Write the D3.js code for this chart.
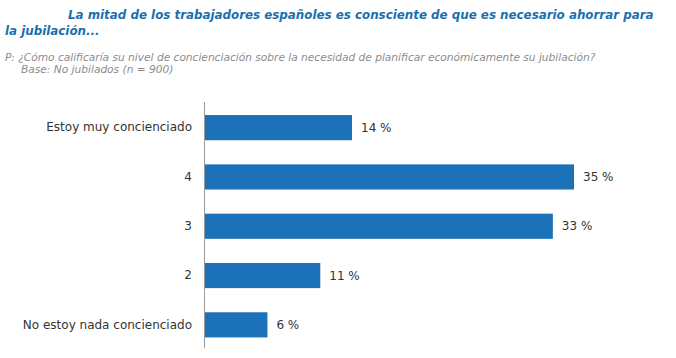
<!DOCTYPE html>
<html>
<head>
<meta charset="utf-8">
<script src="https://cdn.jsdelivr.net/npm/d3@7"></script>
<style>
  html, body { margin: 0; padding: 0; background: #fff; }
  svg { display: block; }
</style>
</head>
<body>
<svg id="chart" width="676" height="358"></svg>
<script>
const categories = ["Estoy muy concienciado", "4", "3", "2", "No estoy nada concienciado"];
const values = [14, 35, 33, 11, 6];
const titleLines = ["La mitad de los trabajadores españoles es consciente de que es necesario ahorrar para", "la jubilación..."];
const subtitleLines = ["P: ¿Cómo calificaría su nivel de concienciación sobre la necesidad de planificar económicamente su jubilación?", "Base: No jubilados (n = 900)"];

const svg = d3.select("#chart");
const margin = { left: 204, top: 102, bottom: 10 };

const x = d3.scaleLinear().domain([0, 35]).range([margin.left, 574]);
const y = d3.scaleBand().domain(categories).range([margin.top + 1, margin.top + 1 + 49.3 * 5]).paddingInner(0.49).paddingOuter(0.245);

function fitText(sel, target, size) {
  const w = sel.node().getComputedTextLength();
  sel.attr("font-size", size * target / w);
}

// Title
const t1 = svg.append("text").attr("x", 68).attr("y", 19)
  .attr("font-family", "DejaVu Sans").attr("font-weight", "bold").attr("font-style", "italic")
  .attr("font-size", 12).attr("fill", "#1a6fae")
  .text(titleLines[0]);
fitText(t1, 586, 12);
svg.append("text").attr("x", 5).attr("y", 35)
  .attr("font-family", "DejaVu Sans").attr("font-weight", "bold").attr("font-style", "italic")
  .attr("font-size", t1.attr("font-size")).attr("fill", "#1a6fae")
  .text(titleLines[1]);

// Subtitle
const s1 = svg.append("text").attr("x", 5).attr("y", 61)
  .attr("font-family", "DejaVu Sans").attr("font-style", "italic")
  .attr("font-size", 10).attr("fill", "#8c8c8c")
  .text(subtitleLines[0]);
fitText(s1, 591, 10);
svg.append("text").attr("x", 21).attr("y", 73)
  .attr("font-family", "DejaVu Sans").attr("font-style", "italic")
  .attr("font-size", s1.attr("font-size")).attr("fill", "#8c8c8c")
  .text(subtitleLines[1]);

// Bars
svg.append("g").selectAll("rect").data(values).join("rect")
  .attr("x", x(0))
  .attr("y", (d, i) => y(categories[i]))
  .attr("width", d => x(d) - x(0))
  .attr("height", y.bandwidth())
  .attr("fill", "#1b72b8");

// Value labels
svg.append("g").selectAll("text").data(values).join("text")
  .attr("x", d => x(d) + 9)
  .attr("y", (d, i) => y(categories[i]) + y.bandwidth() / 2)
  .attr("dy", "0.35em")
  .attr("font-family", "DejaVu Sans").attr("font-size", 12).attr("fill", "#333")
  .text(d => d + " %");

// Axis
const axis = d3.axisLeft(y).tickSize(0).tickPadding(12);
const gA = svg.append("g").attr("transform", `translate(${x(0)},0)`).call(axis);
gA.select(".domain").attr("stroke", "#9a9a9a").attr("d", `M0.5,${margin.top}V348`);
gA.selectAll("text").attr("font-family", "DejaVu Sans").attr("font-size", 12).attr("fill", "#333");
</script>
</body>
</html>
